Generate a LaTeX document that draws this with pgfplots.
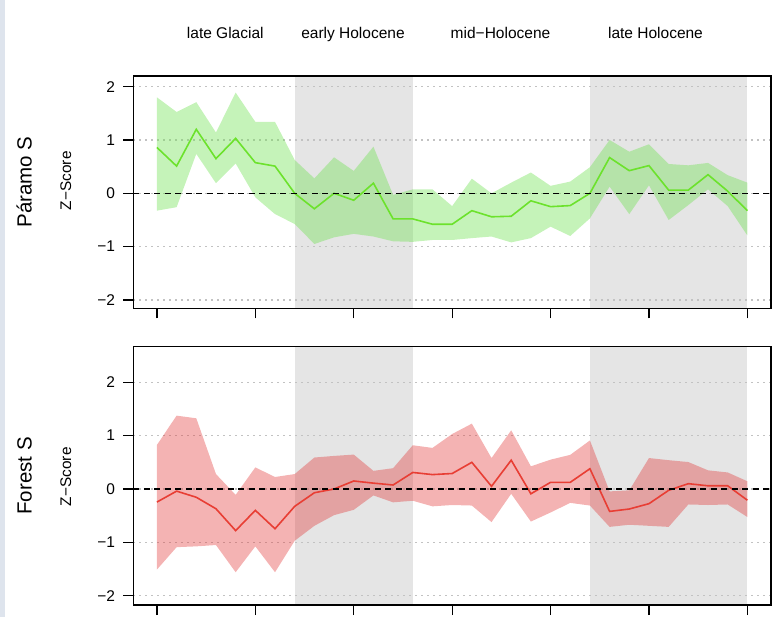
\documentclass[border=0pt]{standalone}
\usepackage{fontspec}
\setmainfont{Liberation Sans}
\usepackage{pgfplots}
\pgfplotsset{compat=1.18}
\usepgfplotslibrary{fillbetween}
\usepackage{pgfplotstable}

\definecolor{bandgray}{RGB}{229,229,229}
\definecolor{gline}{RGB}{108,226,44}
\definecolor{gfill}{RGB}{110,225,80}
\definecolor{rline}{RGB}{232,62,52}
\definecolor{rfill}{RGB}{225,55,55}
\definecolor{stripcol}{RGB}{222,228,237}

\pgfplotstableread{
i m up lo
0 0.86 1.8 -0.325
1 0.51 1.525 -0.26
2 1.2 1.71 0.74
3 0.65 1.14 0.19
4 1.03 1.89 0.56
5 0.575 1.34 -0.075
6 0.51 1.34 -0.39
7 0.0 0.625 -0.575
8 -0.29 0.28 -0.95
9 0.0 0.675 -0.825
10 -0.13 0.42 -0.76
11 0.19 0.875 -0.81
12 -0.48 -0.03 -0.9
13 -0.48 0.075 -0.91
14 -0.58 0.075 -0.875
15 -0.58 -0.24 -0.875
16 -0.325 0.275 -0.84
17 -0.44 0.0 -0.81
18 -0.43 0.2 -0.92
19 -0.14 0.39 -0.84
20 -0.25 0.14 -0.625
21 -0.23 0.22 -0.8
22 0.0 0.49 -0.47
23 0.67 1.0 0.125
24 0.425 0.78 -0.39
25 0.52 0.92 0.15
26 0.06 0.55 -0.5
27 0.06 0.525 -0.22
28 0.35 0.57 0.075
29 0.04 0.34 -0.24
30 -0.325 0.2 -0.79
}\paramo

\pgfplotstableread{
i m up lo
0 -0.245 0.825 -1.51
1 -0.04 1.375 -1.09
2 -0.155 1.325 -1.075
3 -0.37 0.28 -1.05
4 -0.78 -0.11 -1.56
5 -0.4 0.405 -1.075
6 -0.745 0.225 -1.56
7 -0.325 0.28 -0.97
8 -0.07 0.59 -0.69
9 0.0 0.62 -0.49
10 0.15 0.645 -0.39
11 0.11 0.34 -0.12
12 0.075 0.39 -0.25
13 0.31 0.82 -0.22
14 0.27 0.77 -0.325
15 0.29 1.03 -0.3
16 0.5 1.225 -0.31
17 0.05 0.58 -0.62
18 0.54 1.1 -0.09
19 -0.09 0.425 -0.61
20 0.125 0.55 -0.44
21 0.125 0.64 -0.26
22 0.38 0.91 -0.31
23 -0.42 -0.045 -0.71
24 -0.375 -0.025 -0.67
25 -0.275 0.58 -0.69
26 -0.025 0.54 -0.71
27 0.1 0.505 -0.29
28 0.06 0.35 -0.3
29 0.06 0.31 -0.29
30 -0.21 0.145 -0.525
}\forest

\pgfplotsset{
  panel/.style={
    scale only axis,
    width=637.7bp,
    xmin=-1.2, xmax=31.2,
    set layers, clip mode=individual,
    axis line style={black, line width=1.25bp},
    tick style={black, line width=1.25bp},
    major tick length=10bp,
    tick align=outside,
    xtick={0,5,...,30}, xticklabels={},
    xtick pos=left, ytick pos=left,
    ytick={-2,-1,0,1,2},
    yticklabels={−2,−1,0,1,2},
    ymajorgrids,
    major grid style={black!24, line width=1.3bp, dash pattern=on 1.3bp off 4.7bp},
    yticklabel style={font=\fontsize{15.5bp}{17bp}\selectfont, inner sep=0pt, xshift=-8bp},
  }
}

\begin{document}
\begin{tikzpicture}
\fill[stripcol] (0,0) rectangle (5bp,617bp);

% top panel
\begin{axis}[panel, height=232.3bp, ymin=-2.156, ymax=2.2,
  at={(133.3bp,308.7bp)}, anchor=south west]
\addplot[draw=none, fill=bandgray, on layer=axis background] coordinates {(7,-3) (13,-3) (13,3) (7,3)} --cycle;
\addplot[draw=none, fill=bandgray, on layer=axis background] coordinates {(22,-3) (30,-3) (30,3) (22,3)} --cycle;
\addplot[name path=pu, draw=none] table[x=i,y=up]{\paramo};
\addplot[name path=pl, draw=none] table[x=i,y=lo]{\paramo};
\addplot[fill=gfill, fill opacity=0.4, draw=none] fill between[of=pu and pl];
\addplot[gline, line width=1.6bp] table[x=i,y=m]{\paramo};
\addplot[black, line width=1.4bp, dash pattern=on 6bp off 4.5bp] coordinates {(-1.2,0) (31.2,0)};
\end{axis}

% bottom panel
\begin{axis}[panel, height=258.3bp, ymin=-2.174, ymax=2.667,
  at={(133.3bp,12bp)}, anchor=south west]
\addplot[draw=none, fill=bandgray, on layer=axis background] coordinates {(7,-3) (13,-3) (13,3) (7,3)} --cycle;
\addplot[draw=none, fill=bandgray, on layer=axis background] coordinates {(22,-3) (30,-3) (30,3) (22,3)} --cycle;
\addplot[name path=fu, draw=none] table[x=i,y=up]{\forest};
\addplot[name path=fl, draw=none] table[x=i,y=lo]{\forest};
\addplot[fill=rfill, fill opacity=0.38, draw=none] fill between[of=fu and fl];
\addplot[rline, line width=1.6bp] table[x=i,y=m]{\forest};
\addplot[black, line width=1.4bp, dash pattern=on 6bp off 4.5bp] coordinates {(-1.2,0) (31.2,0)};
\end{axis}

% period labels
\begin{scope}[every node/.style={anchor=base, inner sep=0pt, font=\fontsize{15.5bp}{18bp}\selectfont}]
\node at (225.3bp,578bp) {late Glacial};
\node at (353bp,578bp) {early Holocene};
\node at (500.5bp,578bp) {mid−Holocene};
\node at (655.5bp,578bp) {late Holocene};
\end{scope}

% side labels
\node[rotate=90, anchor=base, inner sep=0pt, font=\fontsize{20.5bp}{24bp}\selectfont] at (31.6bp,435bp) {Páramo S};
\node[rotate=90, anchor=base, inner sep=0pt, font=\fontsize{15.4bp}{18bp}\selectfont] at (71bp,436.3bp) {Z−Score};
\node[rotate=90, anchor=base, inner sep=0pt, font=\fontsize{20.5bp}{24bp}\selectfont] at (31.6bp,141bp) {Forest S};
\node[rotate=90, anchor=base, inner sep=0pt, font=\fontsize{15.4bp}{18bp}\selectfont] at (71bp,140.3bp) {Z−Score};

\pgfresetboundingbox
\path (0,0) rectangle (782bp,617bp);
\end{tikzpicture}
\end{document}
